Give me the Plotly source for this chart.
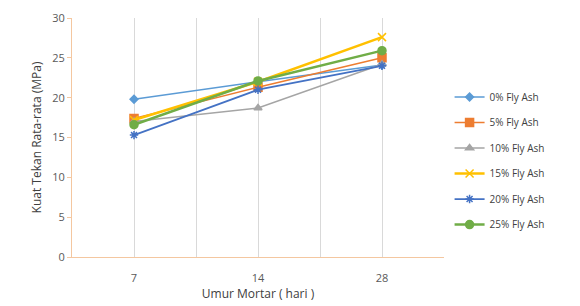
import plotly.graph_objects as go

categories = ["7", "14", "28"]
series_names = ["0% Fly Ash", "5% Fly Ash", "10% Fly Ash", "15% Fly Ash", "20% Fly Ash", "25% Fly Ash"]
v0 = [19.8, 22.0, 24.1]
v5 = [17.4, 21.3, 25.0]
v10 = [17.0, 18.7, 24.2]
v15 = [17.2, 22.0, 27.6]
v20 = [15.3, 21.0, 24.0]
v25 = [16.6, 22.1, 25.9]
values = [v0, v5, v10, v15, v20, v25]

colors = ["#5B9BD5", "#ED7D31", "#A5A5A5", "#FFC000", "#4472C4", "#70AD47"]
symbols = ["diamond", "square", "triangle-up", "x-thin-open", "asterisk-open", "circle"]
msizes = [6, 8, 7, 8, 7, 8]
lwidths = [1.5, 1.5, 1.5, 2.5, 1.8, 2.5]

xpos = list(range(len(categories)))

fig = go.Figure()
for i, name in enumerate(series_names):
    fig.add_trace(go.Scatter(
        x=xpos, y=values[i], name=name, mode="lines+markers",
        legendgroup=name,
        line=dict(color=colors[i], width=lwidths[i]),
        marker=dict(symbol=symbols[i], size=msizes[i], color=colors[i],
                    line=dict(color=colors[i], width=1.5)),
    ))

fig.update_layout(
    width=580, height=306,
    margin=dict(l=64, r=144, t=10, b=57),
    paper_bgcolor="white", plot_bgcolor="white",
    font=dict(family="Open Sans, Liberation Sans, sans-serif", size=11, color="#595959"),
    legend=dict(x=1.015, y=0.73, xanchor="left", yanchor="top",
                font=dict(size=10, color="#404040"), tracegroupgap=6.5,
                bgcolor="rgba(0,0,0,0)"),
)
fig.update_xaxes(
    range=[-0.5, 2.5], tickvals=xpos, ticktext=categories,
    showgrid=True, gridcolor="#D9D9D9", gridwidth=1,
    minor=dict(tick0=-0.5, dtick=1, showgrid=True, gridcolor="#D9D9D9", gridwidth=1),
    showline=True, linecolor="#F4C7A0", linewidth=1,
    zeroline=False, ticks="", automargin=False, ticklabelstandoff=11,
    title=dict(text="Umur Mortar ( hari )", standoff=1, font=dict(size=12, color="#404040")),
    tickfont=dict(size=11, color="#595959"),
)
fig.update_yaxes(
    range=[0, 30], dtick=5, showgrid=False,
    showline=True, linecolor="#F4C7A0", linewidth=1,
    ticks="outside", ticklen=4, tickcolor="#F4C7A0",
    zeroline=False, automargin=False,
    title=dict(text="Kuat Tekan Rata-rata (MPa)", standoff=8, font=dict(size=12, color="#404040")),
    tickfont=dict(size=11, color="#595959"),
)

fig.write_html("out.html")
